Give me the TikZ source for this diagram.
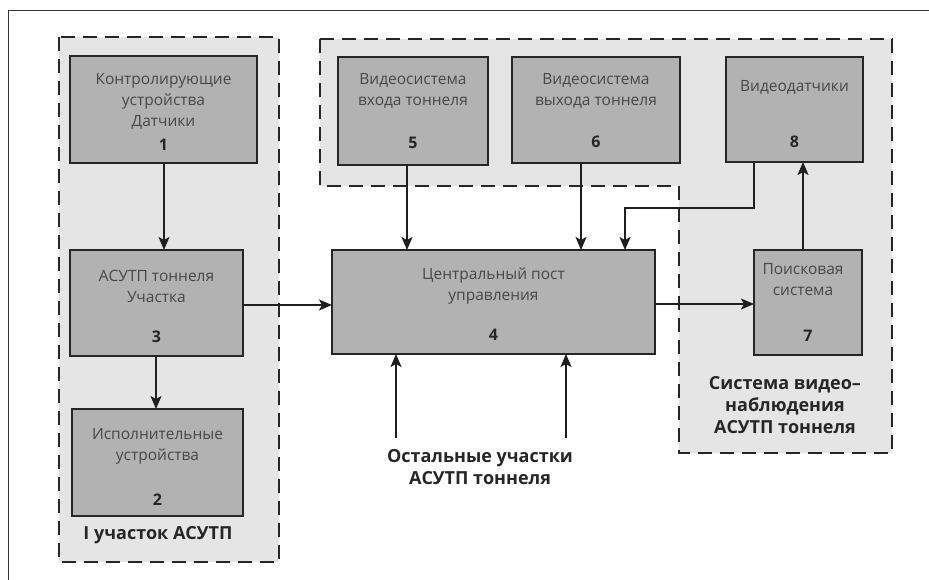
\documentclass[tikz,border=0pt]{standalone}
\usepackage{fontspec}
\setmainfont{Open Sans}
\usetikzlibrary{arrows, arrows.meta}

\begin{document}
\begin{tikzpicture}[x=1pt, y=-1pt,
    blk/.style={draw=black!85, fill=black!30, line width=2pt, inner sep=0pt, outer sep=0pt},
    zone/.style={draw=black!85, fill=black!10, line width=2.3pt, dash pattern=on 14pt off 8pt},
    arr/.style={line width=1.8pt, draw=black!88, -{Stealth[length=13pt, width=11pt, inset=3pt]}},
    txt/.style={font=\fontsize{15.5}{21}\selectfont, text=black!72, align=center, inner sep=0pt},
    num/.style={font=\fontsize{16}{18}\selectfont\bfseries, text=black!85, inner sep=0pt},
    zcap/.style={font=\fontsize{18}{22}\selectfont\bfseries, text=black!85, align=center}]
        \useasboundingbox (0,0) rectangle (929,580);
        \fill[white] (0,0) rectangle (929,580);
        \draw[black!80, line width=0.9pt] (8,580) -- (8,10) -- (929,10);

        % zones
        \draw[zone] (59,37) rectangle (279,562);
        \draw[zone] (320,39) -- (892,39) -- (892,453) -- (679,453) -- (679,186) -- (320,186) -- cycle;

        % blocks
        \node[blk,
            minimum width = 187pt,
            minimum height = 107pt,
            label={[txt, anchor=north, yshift=-17pt]north:{Контролирующие\\устройства\\Датчики}},
            label={[num, anchor=center, yshift=18pt]south:1}] (b1) at (163.5,109.5) {};
        \node[blk,
            minimum width = 173pt,
            minimum height = 106pt,
            label={[txt, anchor=north, yshift=-20pt]north:{АСУТП тоннеля\\Участка}},
            label={[num, anchor=center, yshift=19pt]south:3}] (b3) at (156.5,303) {};
        \node[blk,
            minimum width = 171pt,
            minimum height = 107pt,
            label={[txt, anchor=north, yshift=-19pt]north:{Исполнительные\\устройства}},
            label={[num, anchor=center, yshift=16pt]south:2}] (b2) at (157.5,462.5) {};
        \node[blk,
            minimum width = 150pt,
            minimum height = 108pt,
            label={[txt, anchor=north, yshift=-16pt]north:{Видеосистема\\входа тоннеля}},
            label={[num, anchor=center, yshift=22pt]south:5}] (b5) at (413,111) {};
        \node[blk,
            minimum width = 168pt,
            minimum height = 106pt,
            label={[txt, anchor=north, yshift=-16pt]north:{Видеосистема\\выхода тоннеля}},
            label={[num, anchor=center, yshift=21pt]south:6}] (b6) at (596,110) {};
        \node[blk,
            minimum width = 137pt,
            minimum height = 105pt,
            label={[txt, anchor=north, yshift=-23pt]north:{Видеодатчики}},
            label={[num, anchor=center, yshift=20pt]south:8}] (b8) at (794.5,109.5) {};
        \node[blk,
            minimum width = 323pt,
            minimum height = 104pt,
            label={[txt, anchor=north, yshift=-18pt]north:{Центральный пост\\управления}},
            label={[num, anchor=center, yshift=19pt]south:4}] (b4) at (493.5,302) {};
        \node[blk,
            minimum width = 108pt,
            minimum height = 105pt,
            label={[txt, anchor=north, yshift=-13pt, xshift=-5pt]north:{Поисковая\\система}},
            label={[num, anchor=center, yshift=19pt]south:7}] (b7) at (808,302.5) {};

        % captions
        \node[zcap] (zlab1) at (158,535) {I участок АСУТП};
        \node[zcap] (zlab2) at (785,405) {Система видео–\\наблюдения\\АСУТП тоннеля};
        \node[zcap] (rest) at (480,467) {Остальные участки\\АСУТП тоннеля};
        \coordinate (r1) at (396,438);
        \coordinate (r2) at (566,438);

        % links
        \draw[arr] (164,0 |- b1.south) -- (164,0 |- b3.north);
        \draw[arr] (156,0 |- b3.south) -- (156,0 |- b2.north);
        \draw[arr] (b3.east |- 0,305) -- (b4.west |- 0,305);
        \draw[arr] (407,0 |- b5.south) -- (407,0 |- b4.north);
        \draw[arr] (581,0 |- b6.south) -- (581,0 |- b4.north);
        \draw[arr] (754,0 |- b8.south) -- (754,208) -- (625,208) -- (625,0 |- b4.north);
        \draw[arr] (b4.east |- 0,304) -- (b7.west |- 0,304);
        \draw[arr] (803,0 |- b7.north) -- (803,0 |- b8.south);
        \draw[arr] (r1) -- (r1 |- b4.south);
        \draw[arr] (r2) -- (r2 |- b4.south);
\end{tikzpicture}
\end{document}
